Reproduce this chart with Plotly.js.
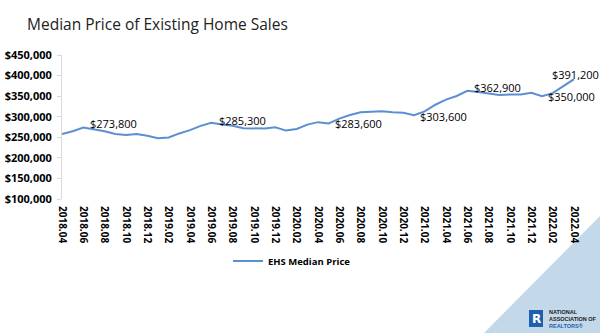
<!DOCTYPE html>
<html>
<head>
<meta charset="utf-8">
<script src="https://cdn.plot.ly/plotly-3.0.1.min.js"></script>
<style>html,body{margin:0;padding:0;background:#fff;}#chart{width:600px;height:333px;}</style>
</head>
<body>
<div id="chart"></div>
<script>
const months = ['2018.04','2018.05','2018.06','2018.07','2018.08','2018.09','2018.10','2018.11','2018.12',
  '2019.01','2019.02','2019.03','2019.04','2019.05','2019.06','2019.07','2019.08','2019.09','2019.10','2019.11','2019.12',
  '2020.01','2020.02','2020.03','2020.04','2020.05','2020.06','2020.07','2020.08','2020.09','2020.10','2020.11','2020.12',
  '2021.01','2021.02','2021.03','2021.04','2021.05','2021.06','2021.07','2021.08','2021.09','2021.10','2021.11','2021.12',
  '2022.01','2022.02','2022.03','2022.04'];
const prices = [257900,264800,273800,269300,264800,258100,255400,257700,253600,
  247500,249400,259400,267300,277700,285300,280800,278200,272100,270900,271300,274500,
  266300,270100,280700,286800,283600,295300,304100,310600,311800,313000,310800,309800,
  303600,313000,329100,341600,350300,362900,359900,356700,352800,353900,353900,358000,
  350000,357300,375300,391200];
const tickLabels = ['2018.04','2018.06','2018.08','2018.10','2018.12','2019.02','2019.04','2019.06','2019.08',
  '2019.10','2019.12','2020.02','2020.04','2020.06','2020.08','2020.10','2020.12','2021.02','2021.04',
  '2021.06','2021.08','2021.10','2021.12','2022.02','2022.04'];
const labeledMonths = ['2018.06','2019.06','2020.05','2021.01','2021.06','2022.01','2022.04'];
const seriesName = 'EHS Median Price';
const chartTitle = 'Median Price of Existing Home Sales';

const FONT = 'Open Sans, sans-serif';
const labelStyle = {
  '2018.06': {xanchor:'left', xshift:5, yshift:4},
  '2019.06': {xanchor:'left', xshift:6, yshift:2},
  '2020.05': {xanchor:'left', xshift:4, yshift:0},
  '2021.01': {xanchor:'left', xshift:4, yshift:-1},
  '2021.06': {xanchor:'left', xshift:5, yshift:3.5},
  '2022.01': {xanchor:'left', xshift:4, yshift:0},
  '2022.04': {xanchor:'center', xshift:1, yshift:5}
};
const annotations = labeledMonths.map(m => {
  const i = months.indexOf(m);
  const v = prices[i];
  const s = labelStyle[m];
  return {x: i, y: v, xref:'x', yref:'y', text: '$' + v.toLocaleString('en-US'),
    showarrow:false, xanchor:s.xanchor, yanchor:'middle', xshift:s.xshift, yshift:s.yshift,
    font:{family:FONT, size:11, color:'#000'}};
});

// pixel -> paper helpers for decorations
const L = 62, R = 574, T = 55, B = 199;
const px = x => (x - L) / (R - L);
const py = y => (B - y) / (B - T);

const shapes = [
  {type:'path', xref:'paper', yref:'paper', layer:'below',
   path:`M ${px(600)} ${py(216)} L ${px(600)} ${py(333)} L ${px(484)} ${py(333)} Z`,
   fillcolor:'#C3D9EA', line:{width:0}},
  {type:'rect', xref:'paper', yref:'paper', x0:px(529), x1:px(543), y0:py(327), y1:py(310),
   fillcolor:'#1F5FAD', line:{width:0}}
];
annotations.push(
  {xref:'paper', yref:'paper', x:px(536), y:py(318.5), text:'<b>R</b>', showarrow:false,
   font:{family:'DejaVu Sans', size:12, color:'#fff'}, xanchor:'center', yanchor:'middle'},
  {xref:'paper', yref:'paper', x:px(547), y:py(318.5), showarrow:false, xanchor:'left', yanchor:'middle', align:'left',
   text:'<b>NATIONAL<br>ASSOCIATION OF<br><span style="color:#1F5FAD">REALTORS®</span></b>',
   font:{family:'Liberation Sans', size:5.5, color:'#1a1a1a'}}
);

const trace = {x: months, y: prices, type:'scatter', mode:'lines', name: seriesName,
  line:{color:'#5B8FD3', width:2}};

const layout = {
  width:600, height:333,
  margin:{l:L, r:600-R, t:T, b:333-B, pad:0},
  paper_bgcolor:'#fff', plot_bgcolor:'rgba(0,0,0,0)',
  title:{text: chartTitle, xref:'container', yref:'container', x:27/600, xanchor:'left',
    y:1-25/333, yanchor:'middle', font:{family:FONT, size:15.5, color:'#222'}},
  xaxis:{type:'category', range:[0, months.length-1], tickmode:'array', tickvals:tickLabels, ticktext:tickLabels,
    tickangle:90, showgrid:false, showline:false, zeroline:false, ticks:'', ticklabelstandoff:6,
    tickfont:{family:FONT, size:10, color:'#000', weight:'bold'}},
  yaxis:{range:[100000,450000], dtick:50000, tick0:100000, tickprefix:'$', tickformat:',d',
    showgrid:false, showline:true, linecolor:'#D9D9D9', linewidth:1, ticks:'outside', ticklen:4,
    tickcolor:'#D9D9D9', zeroline:false, ticklabelstandoff:3,
    tickfont:{family:FONT, size:11, color:'#000', weight:'bold'}},
  showlegend:true,
  legend:{orientation:'h', x:px(292), xanchor:'center', y:py(261), yanchor:'middle',
    itemwidth:30, font:{family:FONT, size:9.5, color:'#000', weight:'bold'}, bgcolor:'rgba(0,0,0,0)'},
  shapes: shapes,
  annotations: annotations
};
Plotly.newPlot('chart', [trace], layout, {displayModeBar:false, staticPlot:true});
</script>
</body>
</html>
